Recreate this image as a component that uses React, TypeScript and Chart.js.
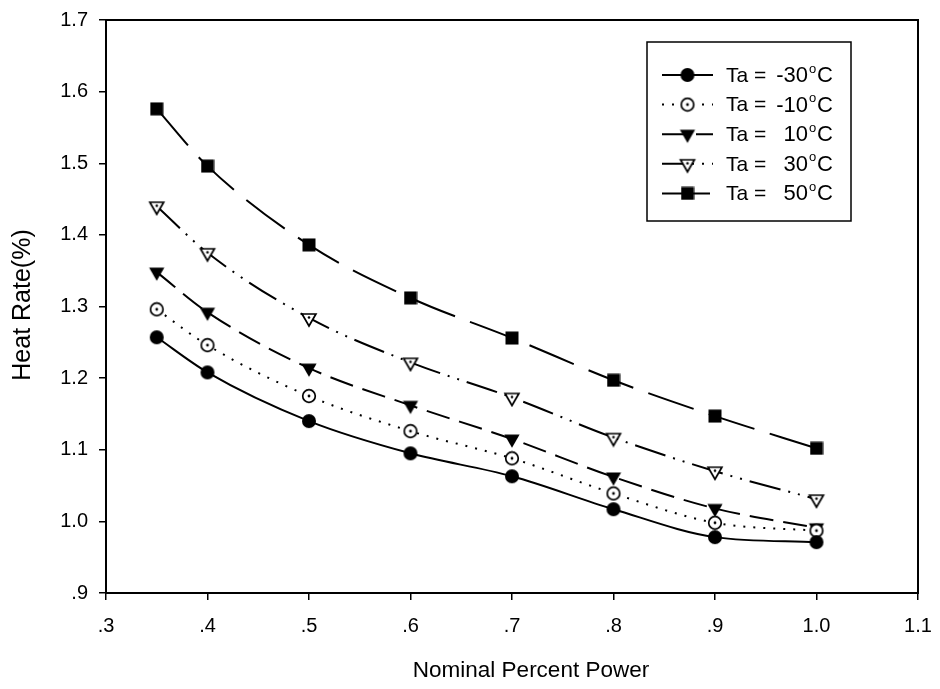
import React, { useEffect, useRef } from 'react';
import { Chart, registerables } from 'chart.js';

Chart.register(...registerables);

const FONT = '"Liberation Sans", Arial, Helvetica, sans-serif';

// Operating points (fraction of nominal power)
const powerLevels = [0.35, 0.4, 0.5, 0.6, 0.7, 0.8, 0.9, 1.0];

// Heat rate for each ambient temperature
const heatRateM30 = [1.257, 1.208, 1.14, 1.095, 1.063, 1.017, 0.978, 0.971];
const heatRateM10 = [1.296, 1.246, 1.175, 1.126, 1.088, 1.039, 0.998, 0.987];
const heatRateP10 = [1.348, 1.292, 1.214, 1.162, 1.115, 1.062, 1.018, 0.991];
const heatRateP30 = [1.44, 1.375, 1.284, 1.222, 1.173, 1.117, 1.07, 1.031];
const heatRateP50 = [1.576, 1.496, 1.386, 1.312, 1.256, 1.197, 1.147, 1.102];

const ambientTemps = [-30, -10, 10, 30, 50];

const xTickValues = [0.3, 0.4, 0.5, 0.6, 0.7, 0.8, 0.9, 1.0, 1.1];
const xTickLabels = ['.3', '.4', '.5', '.6', '.7', '.8', '.9', '1.0', '1.1'];
const yTickValues = [0.9, 1.0, 1.1, 1.2, 1.3, 1.4, 1.5, 1.6, 1.7];
const yTickLabels = ['.9', '1.0', '1.1', '1.2', '1.3', '1.4', '1.5', '1.6', '1.7'];

const xAxisTitle = 'Nominal Percent Power';
const yAxisTitle = 'Heat Rate(%)';

function labelFor(values: number[], labels: string[], v: number): string {
  const i = values.findIndex((t) => Math.abs(t - v) < 1e-6);
  return i >= 0 ? labels[i] : '';
}

// ---- marker glyphs --------------------------------------------------------
function makeCanvas(w: number, h: number): [HTMLCanvasElement, CanvasRenderingContext2D] {
  const c = document.createElement('canvas');
  c.width = w;
  c.height = h;
  const ctx = c.getContext('2d') as CanvasRenderingContext2D;
  return [c, ctx];
}

function discMarker() {
  const [c, ctx] = makeCanvas(16, 16);
  ctx.fillStyle = '#000';
  ctx.beginPath();
  ctx.arc(8, 8, 7, 0, Math.PI * 2);
  ctx.fill();
  return c;
}

function ringDotMarker() {
  const [c, ctx] = makeCanvas(16, 16);
  ctx.fillStyle = '#fff';
  ctx.strokeStyle = '#000';
  ctx.lineWidth = 1.7;
  ctx.beginPath();
  ctx.arc(8, 8, 6.3, 0, Math.PI * 2);
  ctx.fill();
  ctx.stroke();
  ctx.fillStyle = '#000';
  ctx.beginPath();
  ctx.arc(8, 8, 1.4, 0, Math.PI * 2);
  ctx.fill();
  return c;
}

function triangleDown(ctx: CanvasRenderingContext2D, cx: number, cy: number, r: number) {
  ctx.beginPath();
  ctx.moveTo(cx - r * 0.866, cy - r * 0.5);
  ctx.lineTo(cx + r * 0.866, cy - r * 0.5);
  ctx.lineTo(cx, cy + r);
  ctx.closePath();
}

function filledTriMarker() {
  const [c, ctx] = makeCanvas(20, 20);
  ctx.fillStyle = '#000';
  triangleDown(ctx, 10, 10, 8.8);
  ctx.fill();
  return c;
}

function openTriMarker() {
  const [c, ctx] = makeCanvas(20, 20);
  ctx.fillStyle = '#fff';
  ctx.strokeStyle = '#000';
  ctx.lineWidth = 1.7;
  ctx.lineJoin = 'miter';
  triangleDown(ctx, 10, 10, 8);
  ctx.fill();
  ctx.stroke();
  ctx.fillStyle = '#000';
  ctx.beginPath();
  ctx.arc(10, 9.5, 1.3, 0, Math.PI * 2);
  ctx.fill();
  return c;
}

function squareMarker() {
  const [c, ctx] = makeCanvas(14, 14);
  ctx.fillStyle = '#000';
  ctx.fillRect(0.5, 0.5, 13, 13);
  return c;
}

// ---- custom drawing: frame, axis titles, legend ----------------------------
type SeriesStyle = { temp: number; dash: number[]; marker: HTMLCanvasElement };

function drawLegend(ctx: CanvasRenderingContext2D, items: SeriesStyle[]) {
  const left = 647;
  const top = 42;
  const right = 851;
  const bottom = 221;
  ctx.save();
  ctx.fillStyle = '#fff';
  ctx.fillRect(left, top, right - left, bottom - top);
  ctx.strokeStyle = '#000';
  ctx.lineWidth = 1.5;
  ctx.setLineDash([]);
  ctx.strokeRect(left, top, right - left, bottom - top);

  items.forEach((it, i) => {
    const y = top + 33 + i * 29.6;
    ctx.strokeStyle = '#000';
    ctx.lineWidth = 2;
    ctx.setLineDash(it.dash);
    ctx.beginPath();
    ctx.moveTo(662, y);
    ctx.lineTo(713, y);
    ctx.stroke();
    ctx.setLineDash([]);
    ctx.drawImage(it.marker, 687.5 - it.marker.width / 2, y - it.marker.height / 2);

    ctx.fillStyle = '#000';
    ctx.textBaseline = 'middle';
    ctx.font = `21px ${FONT}`;
    ctx.textAlign = 'left';
    ctx.fillText('Ta =', 726, y + 1);
    ctx.font = `22px ${FONT}`;
    ctx.textAlign = 'right';
    ctx.fillText(String(it.temp), 808, y + 1);
    ctx.textAlign = 'left';
    ctx.font = `13px ${FONT}`;
    ctx.fillText('o', 809, y - 6);
    ctx.font = `22px ${FONT}`;
    ctx.fillText('C', 817, y + 1);
  });
  ctx.restore();
}

export default function App() {
  const canvasRef = useRef<HTMLCanvasElement | null>(null);

  useEffect(() => {
    const canvas = canvasRef.current;
    if (!canvas) return;

    const series: (SeriesStyle & { values: number[] })[] = [
      { temp: ambientTemps[0], values: heatRateM30, dash: [], marker: discMarker() },
      { temp: ambientTemps[1], values: heatRateM10, dash: [2, 8], marker: ringDotMarker() },
      { temp: ambientTemps[2], values: heatRateP10, dash: [24, 10], marker: filledTriMarker() },
      { temp: ambientTemps[3], values: heatRateP30, dash: [32, 8, 2, 8, 2, 8], marker: openTriMarker() },
      { temp: ambientTemps[4], values: heatRateP50, dash: [48, 16], marker: squareMarker() },
    ];

    const decorations = {
      id: 'decorations',
      afterDraw(chart: any) {
        const ctx: CanvasRenderingContext2D = chart.ctx;
        const a = chart.chartArea;
        ctx.save();
        ctx.strokeStyle = '#000';
        ctx.lineWidth = 2;
        ctx.setLineDash([]);
        ctx.strokeRect(a.left, a.top, a.right - a.left, a.bottom - a.top);

        ctx.fillStyle = '#000';
        ctx.textAlign = 'center';
        ctx.textBaseline = 'middle';
        ctx.font = `22.5px ${FONT}`;
        ctx.fillText(xAxisTitle, 531, 671);

        ctx.font = `25px ${FONT}`;
        ctx.translate(23, 305);
        ctx.rotate(-Math.PI / 2);
        ctx.fillText(yAxisTitle, 0, 0);
        ctx.restore();

        drawLegend(ctx, series);
      },
    };

    const chart = new Chart(canvas, {
      type: 'line',
      data: {
        datasets: series.map((s) => ({
          label: `Ta = ${s.temp}°C`,
          data: powerLevels.map((x, i) => ({ x, y: s.values[i] })),
          borderColor: '#000',
          borderWidth: 2,
          borderDash: s.dash,
          backgroundColor: '#000',
          fill: false,
          cubicInterpolationMode: 'monotone' as const,
          pointStyle: s.marker,
          pointRadius: 7,
          pointHoverRadius: 7,
        })),
      },
      options: {
        responsive: false,
        maintainAspectRatio: false,
        animation: false,
        events: [],
        layout: { padding: { top: 20, right: 22, bottom: 0, left: 0 } },
        plugins: {
          legend: { display: false },
          tooltip: { enabled: false },
          title: { display: false },
        },
        scales: {
          x: {
            type: 'linear',
            min: 0.3,
            max: 1.1,
            afterFit: (scale: any) => {
              scale.height = 96;
              scale.paddingLeft = 0;
              scale.paddingRight = 0;
            },
            ticks: {
              stepSize: 0.1,
              autoSkip: false,
              maxRotation: 0,
              padding: 14,
              color: '#000',
              font: { family: FONT, size: 20 },
              callback: (v: any) => labelFor(xTickValues, xTickLabels, Number(v)),
            },
            grid: {
              drawOnChartArea: false,
              drawTicks: true,
              tickLength: 7,
              color: '#000',
              lineWidth: 1.5,
            },
            border: { color: '#000', width: 2 },
          },
          y: {
            type: 'linear',
            min: 0.9,
            max: 1.7,
            afterFit: (scale: any) => {
              scale.width = 106;
              scale.paddingTop = 0;
              scale.paddingBottom = 0;
            },
            ticks: {
              stepSize: 0.1,
              autoSkip: false,
              padding: 11,
              color: '#000',
              font: { family: FONT, size: 20 },
              callback: (v: any) => labelFor(yTickValues, yTickLabels, Number(v)),
            },
            grid: {
              drawOnChartArea: false,
              drawTicks: true,
              tickLength: 7,
              color: '#000',
              lineWidth: 1.5,
            },
            border: { color: '#000', width: 2 },
          },
        },
      },
      plugins: [decorations],
    });

    return () => {
      chart.destroy();
    };
  }, []);

  return (
    <div style={{ position: 'absolute', left: 0, top: 0, width: 940, height: 689, background: '#fff' }}>
      <canvas ref={canvasRef} width={940} height={689} style={{ display: 'block', width: 940, height: 689 }} />
    </div>
  );
}
